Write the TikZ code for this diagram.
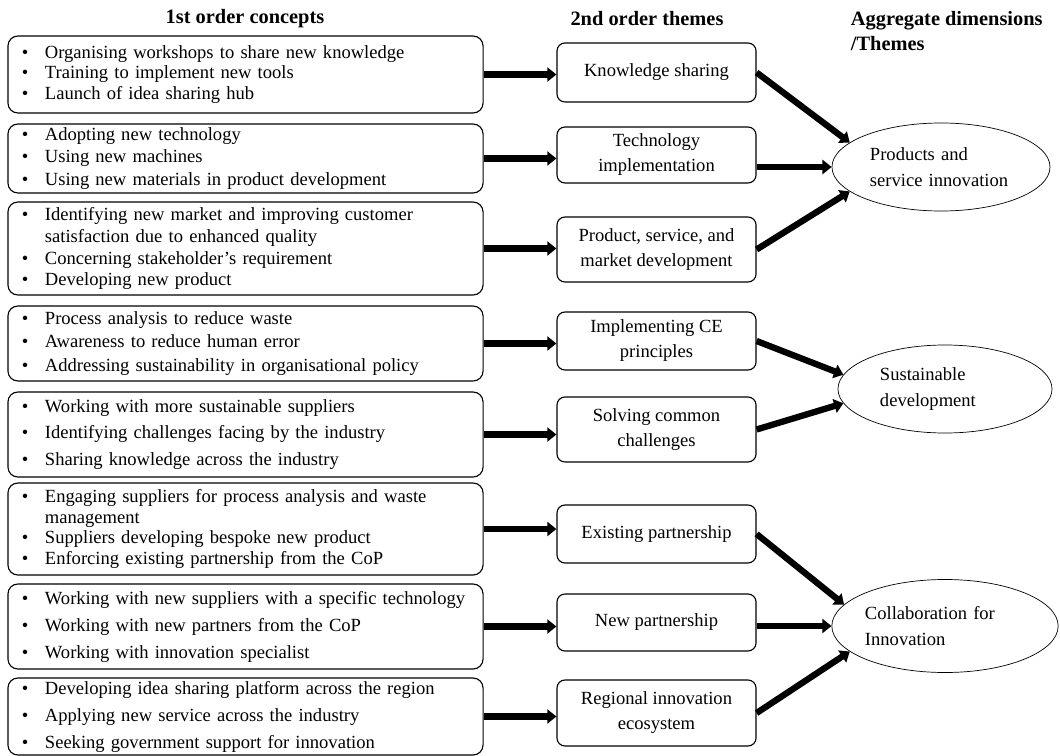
\documentclass[tikz,border=0pt]{standalone}
\usepackage{fontspec}
\setmainfont{Liberation Serif}
\usetikzlibrary{arrows.meta,shapes.geometric}
\newcommand{\itm}[1]{\makebox[0.575cm][l]{\textbullet}\mbox{#1}}
\tikzset{lead/.style={font=\fontsize{13.2}{#1}\selectfont}}

\begin{document}
\begin{tikzpicture}[x=0.025cm,y=-0.025cm]
  \tikzstyle{head}=[font=\fontsize{14.5}{17.8}\selectfont\bfseries]
  \tikzstyle{concept}=[draw, rounded corners=0.25cm, line width=0.8pt, text width=11.175cm,
inner xsep=0.35cm, inner ysep=0pt, minimum width=11.875cm, align=left]
  \tikzstyle{theme}=[draw, rounded corners=0.2cm, line width=0.8pt, minimum width=4.975cm,
inner sep=2pt, align=center, lead=17.8pt]
  \tikzstyle{dimension}=[draw, ellipse, line width=0.5pt, inner sep=0pt, align=left, lead=18.5pt]
  \tikzstyle{bigarrow}=[line width=4.5pt, -{Triangle[length=6.5pt,width=10pt]}]
  \useasboundingbox (0,0) rectangle (1060,756);

  \node[head] (H_1) at (245,19) {1st order concepts};
  \node[head] (H_2) at (647,19) {2nd order themes};
  \node[head, anchor=west, align=left] (H_3) at (846,31) {Aggregate dimensions\\/Themes};

  \node[concept, minimum height=1.925cm, lead=14.4pt] (C_1) at (245.5,74.5)
    {\itm{Organising workshops to share new knowledge}\\\itm{Training to implement new tools}\\\itm{Launch of idea sharing hub}};
  \node[concept, minimum height=1.725cm, lead=15.8pt] (C_2) at (245.5,158.5)
    {\itm{Adopting new technology}\\\itm{Using new machines}\\\itm{Using new materials in product development}};
  \node[concept, minimum height=2.325cm, lead=15.6pt] (C_3) at (245.5,248.5)
    {\itm{Identifying new market and improving customer}\\\hspace*{0.575cm}satisfaction due to enhanced quality\\\itm{Concerning stakeholder’s requirement}\\\itm{Developing new product}};
  \node[concept, minimum height=1.875cm, lead=16.7pt] (C_4) at (245.5,343.5)
    {\itm{Process analysis to reduce waste}\\\itm{Awareness to reduce human error}\\\itm{Addressing sustainability in organisational policy}};
  \node[concept, minimum height=2.125cm, lead=18.8pt] (C_5) at (245.5,434.5)
    {\itm{Working with more sustainable suppliers}\\\itm{Identifying challenges facing by the industry}\\\itm{Sharing knowledge across the industry}};
  \node[concept, minimum height=2.3cm, lead=14.8pt] (C_6) at (245.5,529)
    {\itm{Engaging suppliers for process analysis and waste}\\\hspace*{0.575cm}management\\\itm{Suppliers developing bespoke new product}\\\itm{Enforcing existing partnership from the CoP}};
  \node[concept, minimum height=2.125cm, lead=19.2pt] (C_7) at (245.5,626.5)
    {\itm{Working with new suppliers with a specific technology}\\\itm{Working with new partners from the CoP}\\\itm{Working with innovation specialist}};
  \node[concept, minimum height=1.925cm, lead=19.2pt] (C_8) at (245.5,716.5)
    {\itm{Developing idea sharing platform across the region}\\\itm{Applying new service across the industry}\\\itm{Seeking government support for innovation}};

  \node[theme, minimum height=1.475cm] (T_1) at (656.5,72.5) {Knowledge sharing};
  \node[theme, minimum height=1.4cm] (T_2) at (656.5,155) {Technology\\implementation};
  \node[theme, minimum height=1.625cm] (T_3) at (656.5,249.5) {Product, service, and\\market development};
  \node[theme, minimum height=1.45cm] (T_4) at (656.5,341) {Implementing CE\\principles};
  \node[theme, minimum height=1.625cm] (T_5) at (656.5,429.5) {Solving common\\challenges};
  \node[theme, minimum height=1.45cm] (T_6) at (656.5,534) {Existing partnership};
  \node[theme, minimum height=1.425cm] (T_7) at (656.5,622.5) {New partnership};
  \node[theme, minimum height=1.65cm] (T_8) at (656.5,713) {Regional innovation\\ecosystem};

  \node[dimension, minimum width=5.45cm, minimum height=2.2cm, text width=3.55cm] (D_1) at (941,167)
    {Products and\\service innovation};
  \node[dimension, minimum width=5.35cm, minimum height=2.2cm, text width=3.25cm] (D_2) at (945,389)
    {Sustainable\\development};
  \node[dimension, minimum width=5.65cm, minimum height=2.325cm, text width=4cm] (D_3) at (945,626)
    {Collaboration for\\Innovation};

  \foreach \i in {1,...,8}
    \draw[bigarrow] (C_\i.east) -- (C_\i.east -| T_\i.west);

  \draw[bigarrow] (T_1.east) -- (D_1.165);
  \draw[bigarrow] (D_1.west -| T_2.east) -- (D_1.west);
  \draw[bigarrow] (T_3.east) -- (D_1.195);
  \draw[bigarrow] (T_4.east) -- (D_2.172);
  \draw[bigarrow] (T_5.east) -- (D_2.188);
  \draw[bigarrow] (T_6.east) -- (D_3.168);
  \draw[bigarrow] (D_3.west -| T_7.east) -- (D_3.west);
  \draw[bigarrow] (T_8.east) -- (D_3.195);
\end{tikzpicture}
\end{document}
